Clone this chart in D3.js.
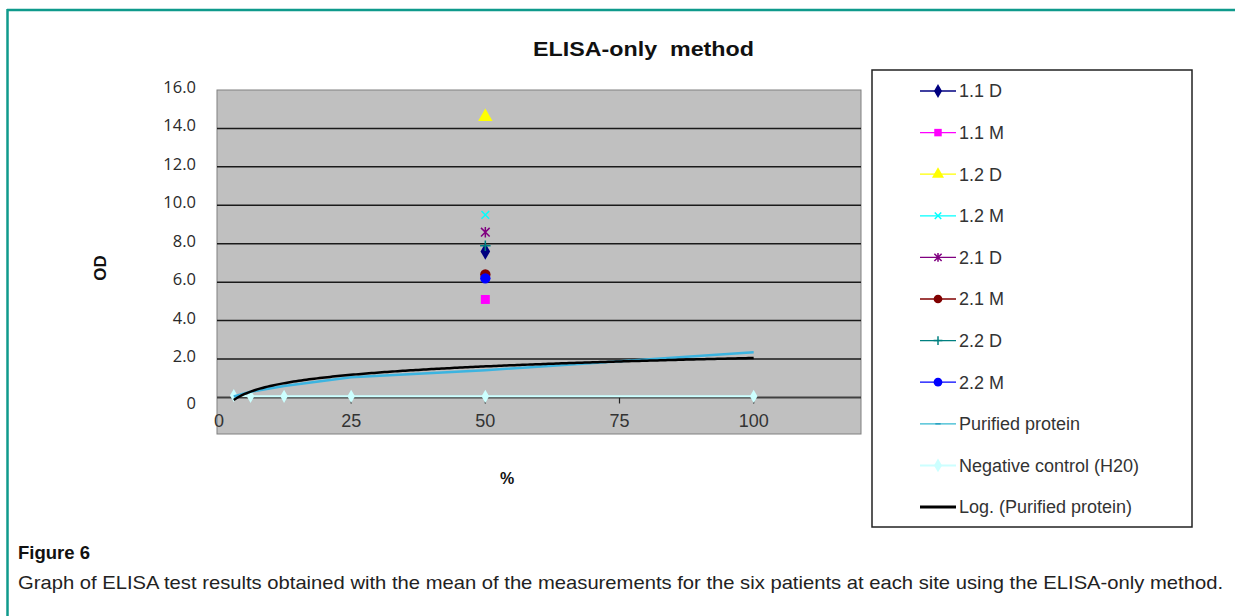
<!DOCTYPE html>
<html>
<head>
<meta charset="utf-8">
<script src="https://cdn.jsdelivr.net/npm/d3@7"></script>
<style>
  body { margin: 0; background: #fff; }
  text { font-family: "Liberation Sans", Arial, sans-serif; }
</style>
</head>
<body>
<svg id="chart" width="1235" height="616"></svg>
<script>
// chart values
const patientNames = ["1.1 D", "1.1 M", "1.2 D", "1.2 M", "2.1 D", "2.1 M", "2.2 D", "2.2 M"];
const patientX = [50, 50, 50, 50, 50, 50, 50, 50];
const patientOD = [7.6, 5.1, 14.6, 9.5, 8.6, 6.4, 7.9, 6.2];
const patientColors = ["#000080", "#ff00ff", "#ffff00", "#00ffff", "#800080", "#800000", "#008080", "#0000ff"];
const patientShapes = ["diamond", "square", "triangle", "times", "star", "circle", "plus", "circle"];

const dilutions = [3.125, 6.25, 12.5, 25, 50, 100];
const purifiedOD = [0.05, 0.3, 0.6, 1.05, 1.42, 2.35];
const negativeOD = [0.1, 0.06, 0.06, 0.06, 0.06, 0.06];

const xTicks = [0, 25, 50, 75, 100];
const yTicks = [0, 2, 4, 6, 8, 10, 12, 14, 16];

const svg = d3.select("#chart");

// outer figure frame (top + left only)
svg.append("line").attr("x1", 7).attr("x2", 1235).attr("y1", 10).attr("y2", 10)
    .attr("stroke", "#0f9a8c").attr("stroke-width", 2.5);
svg.append("line").attr("x1", 7.5).attr("x2", 7.5).attr("y1", 9).attr("y2", 616)
    .attr("stroke", "#0f9a8c").attr("stroke-width", 2.5);

const x = d3.scaleLinear().domain([0, 120]).range([217, 861]);
const y = d3.scaleLinear().domain([-1.9, 16]).range([434, 90]);

// plot area
svg.append("rect")
    .attr("x", x(0)).attr("y", y(16))
    .attr("width", x(120) - x(0)).attr("height", y(-1.9) - y(16))
    .attr("fill", "#c0c0c0").attr("stroke", "#808080").attr("stroke-width", 1);

// horizontal gridlines
svg.append("g").selectAll("line")
    .data(yTicks.filter(d => d > 0 && d < 16))
    .join("line")
    .attr("x1", x(0)).attr("x2", x(120))
    .attr("y1", d => y(d)).attr("y2", d => y(d))
    .attr("stroke", "#1a1a1a").attr("stroke-width", 1.5);

// y tick labels
svg.append("g").selectAll("text")
    .data(yTicks)
    .join("text")
    .attr("x", 196)
    .attr("y", d => d === 0 ? y(d) + 12 : y(d) + 3)
    .attr("text-anchor", "end")
    .style("font-family", "'Open Sans', sans-serif")
    .style("font-size", "16.5px")
    .attr("fill", "#2a2a2a")
    .text(d => d === 0 ? "0" : d.toFixed(1));

// x axis line at OD = 0
svg.append("line")
    .attr("x1", x(0)).attr("x2", x(120))
    .attr("y1", y(0)).attr("y2", y(0))
    .attr("stroke", "#404040").attr("stroke-width", 2);

svg.append("g").selectAll("line")
    .data(xTicks.filter(d => d > 0))
    .join("line")
    .attr("x1", d => x(d)).attr("x2", d => x(d))
    .attr("y1", y(0)).attr("y2", y(0) + 6)
    .attr("stroke", "#222").attr("stroke-width", 1.2);

svg.append("g").selectAll("text")
    .data(xTicks)
    .join("text")
    .attr("x", d => d === 0 ? x(d) + 2 : x(d))
    .attr("y", 427)
    .attr("text-anchor", "middle")
    .style("font-size", "18px")
    .attr("fill", "#333")
    .text(d => d);

// custom stroke symbols
const starSym = {
    draw(ctx, size) {
        const r = Math.sqrt(size) / 2;
        ctx.moveTo(-r, -r); ctx.lineTo(r, r);
        ctx.moveTo(-r, r); ctx.lineTo(r, -r);
        ctx.moveTo(0, -r * 1.2); ctx.lineTo(0, r * 1.2);
    }
};
const timesSym = {
    draw(ctx, size) {
        const r = Math.sqrt(size) / 2;
        ctx.moveTo(-r, -r); ctx.lineTo(r, r);
        ctx.moveTo(-r, r); ctx.lineTo(r, -r);
    }
};
const plusSym = {
    draw(ctx, size) {
        const r = Math.sqrt(size) / 2;
        ctx.moveTo(-r, 0); ctx.lineTo(r, 0);
        ctx.moveTo(0, -r); ctx.lineTo(0, r);
    }
};
const dashSym = {
    draw(ctx, size) {
        const r = Math.sqrt(size) / 2;
        ctx.moveTo(-r, 0); ctx.lineTo(r, 0);
    }
};
const shapeTypes = {
    diamond: [d3.symbolDiamond, 80, true],
    square: [d3.symbolSquare, 80, true],
    triangle: [d3.symbolTriangle, 90, true],
    circle: [d3.symbolCircle, 85, true],
    times: [timesSym, 60, false],
    star: [starSym, 75, false],
    plus: [plusSym, 110, false],
    dash: [dashSym, 40, false]
};

function drawMarker(g, shape, color, cx, cy, scale = 1) {
    const [type, size, filled] = shapeTypes[shape];
    g.append("path")
        .attr("d", d3.symbol().type(type).size(size * scale)())
        .attr("transform", `translate(${cx},${cy})`)
        .attr("fill", filled ? color : "none")
        .attr("stroke", color)
        .attr("stroke-width", filled ? 0 : 1.5);
}

// purified protein and its log trendline
const purified = dilutions.map((d, i) => [d, purifiedOD[i]]);
const negative = dilutions.map((d, i) => [d, negativeOD[i]]);

const lx = dilutions.map(Math.log);
const mx = d3.mean(lx), my = d3.mean(purifiedOD);
const slope = d3.sum(lx, (v, i) => (v - mx) * (purifiedOD[i] - my)) / d3.sum(lx, v => (v - mx) ** 2);
const icpt = my - slope * mx;
const xs = d3.range(0, 201).map(i => dilutions[0] + (dilutions[dilutions.length - 1] - dilutions[0]) * i / 200);
const trend = xs.map(v => [v, slope * Math.log(v) + icpt]);

const line = d3.line().x(d => x(d[0])).y(d => y(d[1]));

svg.append("path").datum(negative).attr("d", line)
    .attr("fill", "none").attr("stroke", "#ccffff").attr("stroke-width", 2);
svg.append("g").selectAll("path").data(negative).join("path")
    .attr("d", d3.symbol().type(d3.symbolDiamond).size(50)())
    .attr("transform", d => `translate(${x(d[0])},${y(d[1])})`)
    .attr("fill", "#ccffff");

svg.append("path").datum(purified).attr("d", line)
    .attr("fill", "none").attr("stroke", "#3cb4e0").attr("stroke-width", 2.5);
svg.append("path").datum(trend).attr("d", line)
    .attr("fill", "none").attr("stroke", "#000").attr("stroke-width", 2.5);

// patient means
const pts = svg.append("g");
patientOD.forEach((v, i) => {
    drawMarker(pts, patientShapes[i], patientColors[i], x(patientX[i]), y(v));
});

// titles
svg.append("text").attr("x", 533).attr("y", 56)
    .attr("xml:space", "preserve")
    .style("white-space", "pre")
    .attr("textLength", 221).attr("lengthAdjust", "spacingAndGlyphs")
    .style("font-size", "21px").style("font-weight", "bold").attr("fill", "#111")
    .text("ELISA-only  method");
svg.append("text").attr("transform", "translate(106,268) rotate(-90)")
    .attr("text-anchor", "middle")
    .style("font-size", "17px").style("font-weight", "bold").attr("fill", "#111")
    .text("OD");
svg.append("text").attr("x", 507).attr("y", 484).attr("text-anchor", "middle")
    .style("font-size", "16px").style("font-weight", "bold").attr("fill", "#111")
    .text("%");

// legend
const legendNames = patientNames.concat(["Purified protein", "Negative control (H20)", "Log. (Purified protein)"]);
const legendColors = patientColors.concat(["#33b8d0", "#ccffff", "#000"]);
const legendShapes = patientShapes.concat(["dash", "diamond", null]);

svg.append("rect").attr("x", 872).attr("y", 70).attr("width", 320).attr("height", 457)
    .attr("fill", "#fff").attr("stroke", "#222").attr("stroke-width", 1.5);

const lg = svg.append("g");
legendNames.forEach((name, i) => {
    const cy = 91 + i * 41.6;
    const last = i === legendNames.length - 1;
    lg.append("line").attr("x1", 920).attr("x2", 956).attr("y1", cy).attr("y2", cy)
        .attr("stroke", legendColors[i]).attr("stroke-width", last ? 3 : (i === 9 ? 2 : 1.3));
    if (legendShapes[i]) {
        drawMarker(lg, legendShapes[i], legendShapes[i] === "dash" ? "#2a9fc0" : legendColors[i], 938, cy, 0.7);
    }
    lg.append("text").attr("x", 959).attr("y", cy).attr("dy", "0.35em")
        .style("font-size", "18px").attr("fill", "#333")
        .text(name);
});

// caption
svg.append("text").attr("x", 18).attr("y", 559)
    .style("font-size", "18.5px").style("font-weight", "bold").attr("fill", "#111")
    .text("Figure 6");
svg.append("text").attr("x", 18).attr("y", 589)
    .style("font-size", "18.5px").attr("fill", "#222")
    .attr("textLength", 1205).attr("lengthAdjust", "spacingAndGlyphs")
    .text("Graph of ELISA test results obtained with the mean of the measurements for the six patients at each site using the ELISA-only method.");
</script>
</body>
</html>
